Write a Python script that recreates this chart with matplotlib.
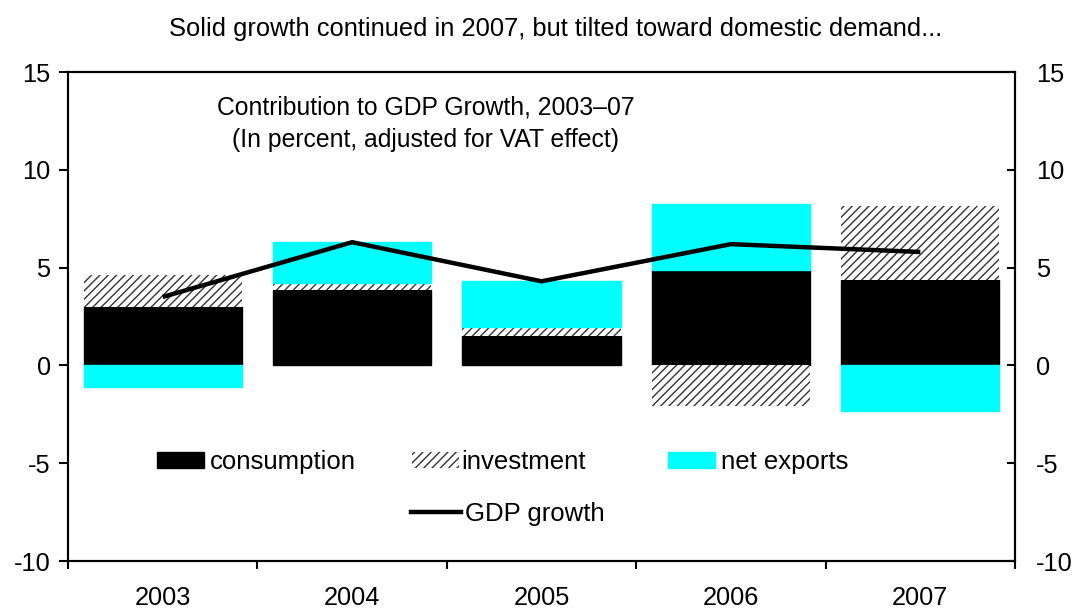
import numpy as np
import matplotlib
matplotlib.use('Agg')
import matplotlib.pyplot as plt
from matplotlib.patches import Patch
from matplotlib.lines import Line2D

plt.rcParams['font.family'] = ['Liberation Sans', 'DejaVu Sans']
plt.rcParams['hatch.linewidth'] = 1.0
plt.rcParams['axes.unicode_minus'] = False

# Contributions to GDP growth, percentage points
years = ['2003', '2004', '2005', '2006', '2007']
consumption = [3.0, 3.85, 1.5, 4.9, 4.35]
investment = [1.6, 0.35, 0.45, -2.1, 3.8]
net_exports = [-1.1, 2.1, 2.35, 3.35, -2.35]
gdp_growth = [3.5, 6.3, 4.3, 6.2, 5.8]

x = np.arange(len(years))
width = 0.835
fs = 18.3
W, H = 1078, 614

fig = plt.figure(figsize=(W / 100, H / 100), dpi=100)
ax = fig.add_axes([0.0631, 0.0863, 0.8785, 0.7964])

cons_style = dict(facecolor='black', edgecolor='black')
inv_style = dict(facecolor='white', edgecolor='#333333', hatch='////', linewidth=0)
nx_style = dict(facecolor='#00ffff', edgecolor='#00ffff')

# stack positives upward from zero and negatives downward
pos_base = np.zeros(len(years))
neg_base = np.zeros(len(years))
for vals, style in [(consumption, cons_style), (investment, inv_style), (net_exports, nx_style)]:
    vals = np.array(vals)
    bottom = np.where(vals >= 0, pos_base, neg_base)
    ax.bar(x, vals, width, bottom=bottom, **style)
    pos_base = pos_base + np.clip(vals, 0, None)
    neg_base = neg_base + np.clip(vals, None, 0)

ax.plot(x, gdp_growth, color='black', linewidth=3.2, solid_capstyle='butt')

ax.set_xlim(-0.5, len(years) - 0.5)
ax.set_ylim(-10, 15)
ax.set_yticks(np.arange(-10, 16, 5))
ax.set_xticks(x)
ax.set_xticklabels(years)
ax.set_xticks(np.arange(-0.5, len(years), 1), minor=True)
ax.tick_params(axis='x', which='major', length=0, labelsize=fs, pad=18)
ax.tick_params(axis='x', which='minor', length=5.5, width=1.5, direction='out')
ax.tick_params(axis='y', length=6.5, width=1.5, direction='out', labelsize=fs, pad=6)
for s in ax.spines.values():
    s.set_linewidth(1.5)

ax2 = ax.twinx()
ax2.set_ylim(-10, 15)
ax2.set_yticks(np.arange(-10, 16, 5))
ax2.tick_params(axis='y', length=6, width=1.5, direction='in', labelsize=fs, pad=15)
for s in ax2.spines.values():
    s.set_linewidth(1.5)

ax.text(0.378, 0.894, 'Contribution to GDP Growth, 2003\u201307\n(In percent, adjusted for VAT effect)',
        transform=ax.transAxes, ha='center', va='center', fontsize=17.8, linespacing=1.45)
fig.text(0.515, 0.953, 'Solid growth continued in 2007, but tilted toward domestic demand...',
         ha='center', va='center', fontsize=18.4)


def legend_entry(handle, label, px, py, hlen=1.83, hpad=0.22):
    leg = fig.legend(handles=[handle], labels=[label], loc='center left',
                     bbox_to_anchor=(px / W, 1 - py / H), frameon=False, fontsize=18.5,
                     borderpad=0, borderaxespad=0, handlelength=hlen,
                     handleheight=0.62, handletextpad=hpad)
    return leg


legend_entry(Patch(**cons_style), 'consumption', 157, 462)
legend_entry(Patch(**inv_style), 'investment', 412, 462, hpad=0.1)
legend_entry(Patch(**nx_style), 'net exports', 668, 462)
legend_entry(Line2D([], [], color='black', linewidth=3.2), 'GDP growth', 411, 514,
             hlen=1.95, hpad=0.15)

fig.savefig('out.png', dpi=100)
